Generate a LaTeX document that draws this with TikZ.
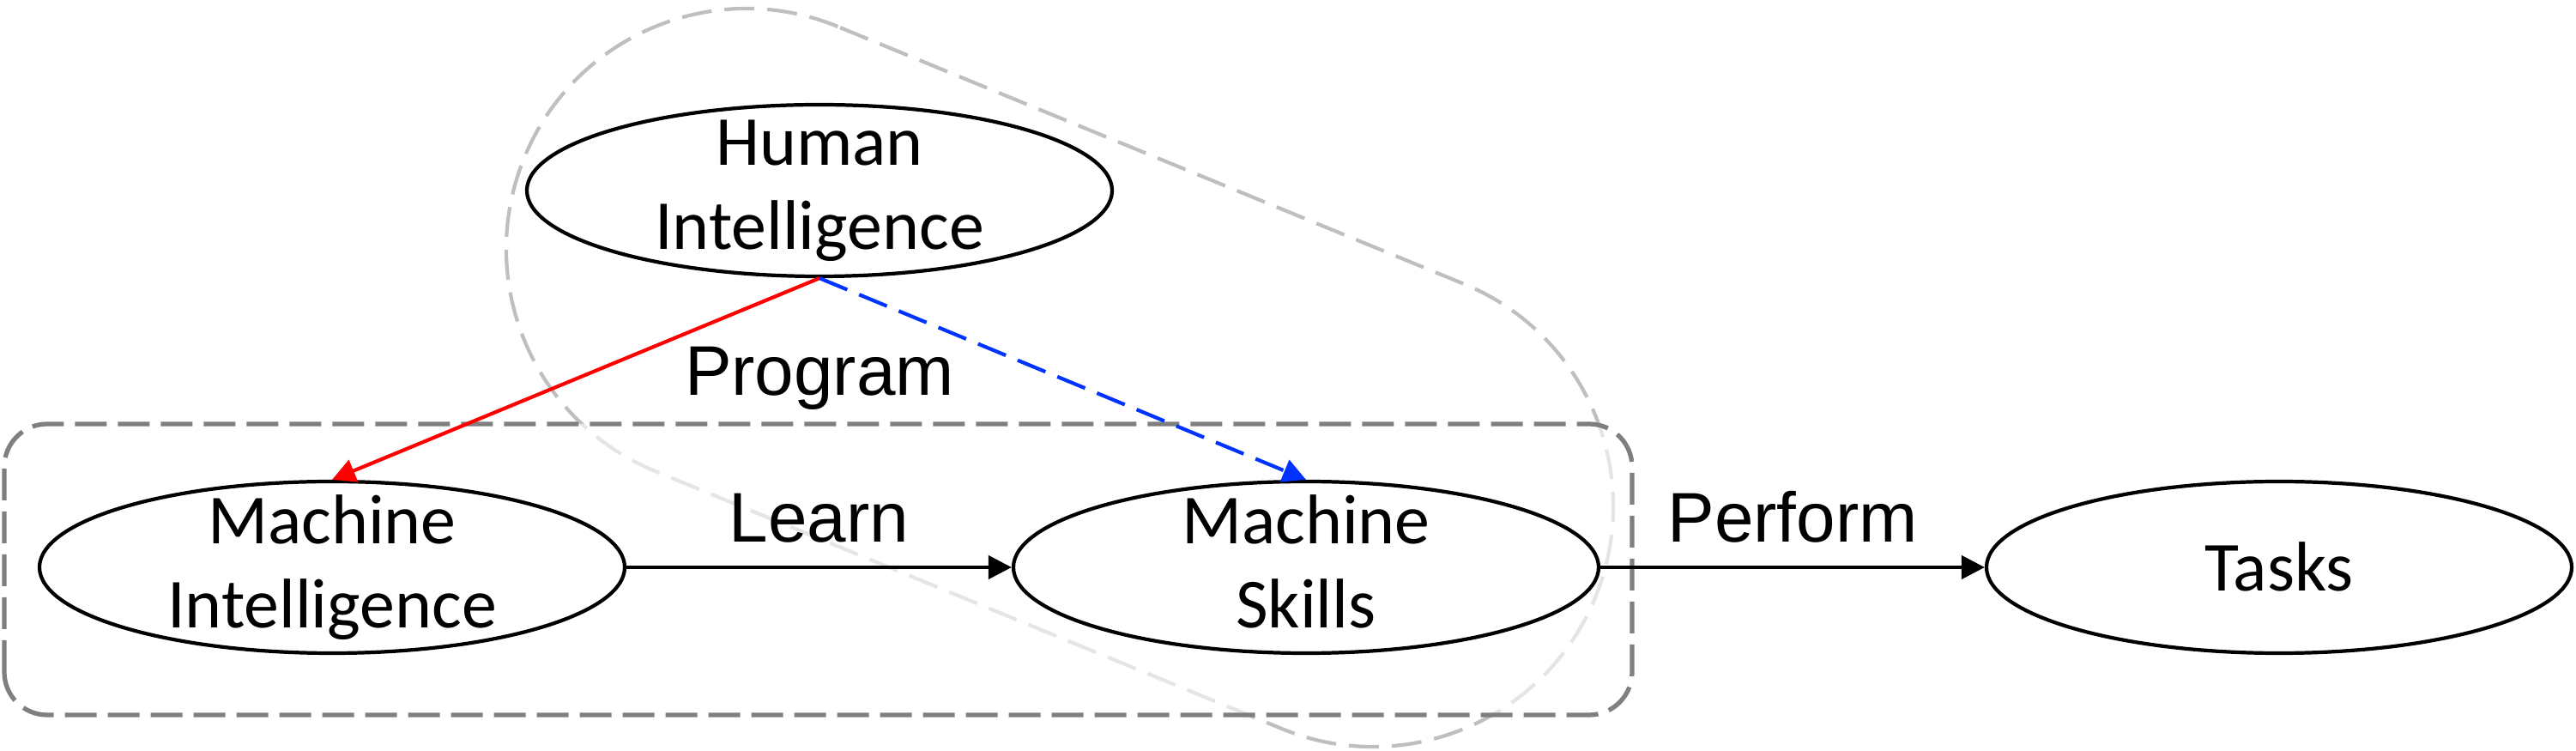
\documentclass[tikz,border=0pt]{standalone}
\usepackage{fontspec}
\setmainfont{Carlito}
\newfontfamily\labelfont{Liberation Sans}
\usepackage{tikz}
\definecolor{progblue}{RGB}{0, 51, 255}
\definecolor{framegray}{RGB}{127, 127, 127}
\definecolor{blobgray}{RGB}{191, 191, 191}
\usetikzlibrary{shapes.geometric, arrows.meta, calc}

\begin{document}
\begin{tikzpicture}[
    concept/.style={draw, ellipse, line width=1.2pt, fill=white,
                    minimum width=6.82cm, minimum height=2cm, inner sep=0pt},
    concepttext/.style={align=center, inner sep=0pt, yshift=-0.08cm,
                    font=\fontsize{23.3}{27.9}\selectfont,
                    execute at begin node=\strut, execute at end node=\strut},
    edgelabel/.style={font=\labelfont\fontsize{23.3}{27.9}\selectfont, inner sep=0pt},
    flow/.style={-{Triangle[length=0.27cm, width=0.27cm]}, line width=1.2pt},
    dashpat/.style={dash pattern=on 0.35cm off 0.15cm}
]
    \useasboundingbox (0,0) rectangle (30.02,8.75);

    \draw[blobgray, line width=1.2pt, dashpat]
        ($(8.70,5.85)+(67.66:2.8)$) arc[start angle=67.66, end angle=247.66, radius=2.8]
        -- ($(16.00,2.85)+(247.66:2.8)$) arc[start angle=247.66, end angle=427.66, radius=2.8]
        -- cycle;
    \draw[framegray, line width=1.5pt, dash pattern=on 0.37cm off 0.13cm,
          rounded corners=0.5cm, fill=white, fill opacity=0.6] (0.05,0.42) rectangle (19.02,3.81);

    \node[concept, label={[concepttext, name=hitext]center:Human\\Intelligence}] (hi) at (9.55,6.53) {};
    \node[concept, label={[concepttext, name=mitext]center:Machine\\Intelligence}] (mi) at (3.87,2.14) {};
    \node[concept, label={[concepttext, name=mstext]center:Machine\\Skills}] (ms) at (15.22,2.14) {};
    \node[concept, label={[concepttext, name=taskstext]center:Tasks}] (tasks) at (26.56,2.14) {};

    \draw[flow, red] (hi.south) -- (mi.north);
    \draw[flow, progblue, dashpat] (hi.south) -- (ms.north);
    \node[edgelabel, anchor=base] (program) at ($(hi.south)+(0,-1.36)$) {Program};
    \draw[flow] (mi.east) -- node[edgelabel, anchor=base, yshift=0.29cm] (learn) {Learn} (ms.west);
    \draw[flow] (ms.east) -- node[edgelabel, anchor=base, yshift=0.29cm] (perform) {Perform} (tasks.west);
\end{tikzpicture}
\end{document}
